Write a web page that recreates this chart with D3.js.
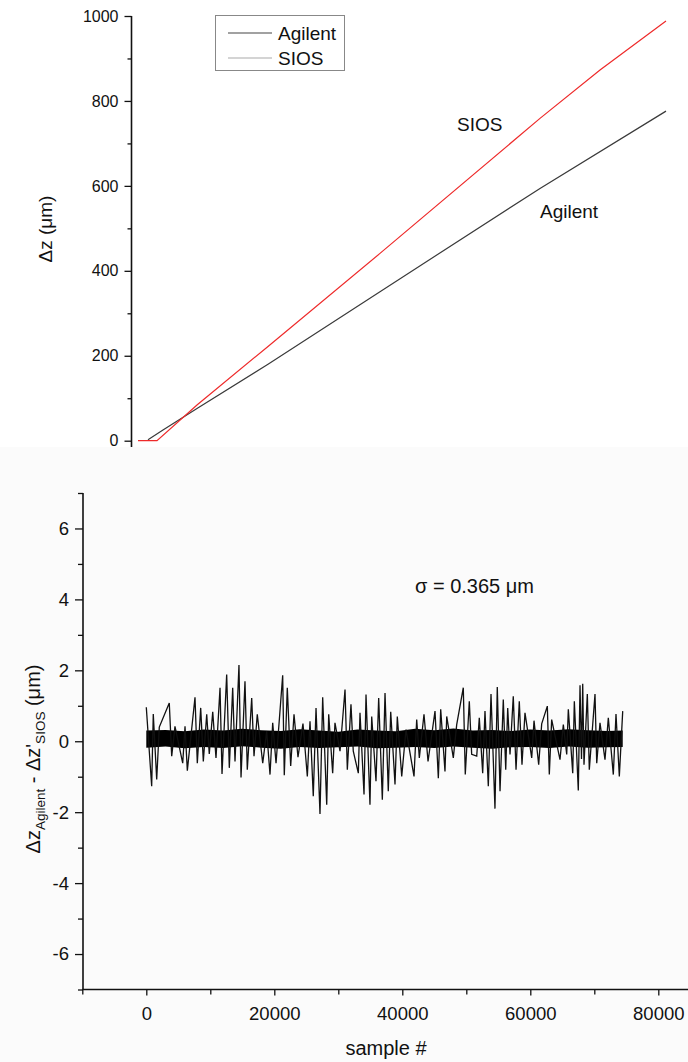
<!DOCTYPE html>
<html>
<head>
<meta charset="utf-8">
<script src="https://cdn.jsdelivr.net/npm/d3@7"></script>
<style>
  html, body { margin: 0; padding: 0; background: #ffffff; }
  svg text { font-family: Arial, "Liberation Sans", sans-serif; fill: #111; }
</style>
</head>
<body>
<script>
// ---------------- DATA ----------------
// Top panel: Δz (µm) vs sample index
const sampleSIOS   = [0, 2950, 9160, 20190, 37580, 62430, 71750, 82000];
const valueSIOS    = [0, 0, 84, 222, 441, 759, 873, 988];
const sampleAgilent = [1550, 3880, 9160, 20190, 37580, 62430, 82000];
const valueAgilent  = [2, 25, 76, 180, 351, 594, 776];
const topTicks = [0, 200, 400, 600, 800, 1000];
const topMinorTicks = [100, 300, 500, 700, 900];
const legendNames = ["Agilent", "SIOS"];

// Bottom panel: ΔzAgilent − Δz'SIOS (µm), envelope of spikes
const diffSamples = [0, 840, 1090, 1625, 2030, 3590, 3970, 4480, 5690, 6050, 6410, 7610, 7970, 8500, 8910, 9440, 9840, 10380, 10890, 11520, 11830, 12560, 12970, 13500, 13860, 14480, 14800, 15420, 15780, 16470, 16830, 17340, 18190, 18810, 19330, 19750, 20270, 21310, 21560, 22030, 22560, 23080, 23700, 24480, 25160, 25580, 26090, 26520, 27140, 27560, 28190, 28500, 29120, 29480, 30270, 31050, 31410, 31980, 32340, 33130, 33390, 34020, 34330, 34950, 35220, 35890, 36310, 36880, 37300, 37810, 38190, 38860, 39220, 39910, 40580, 41830, 42250, 42660, 43390, 44020, 45110, 45630, 46000, 46670, 46940, 47970, 48500, 49530, 49840, 50470, 50840, 51630, 52030, 52560, 52920, 53440, 53860, 54480, 54840, 55270, 55780, 56160, 56470, 56830, 57340, 57770, 58280, 58700, 59170, 60220, 60580, 61310, 61780, 62660, 62970, 63340, 64640, 65160, 65690, 65940, 66630, 66880, 67500, 67770, 68000, 68190, 68390, 68910, 69220, 70110, 70380, 70890, 71670, 72190, 72970, 73390, 73910, 74440];
const diffValues  = [0.96, -1.27, 0.77, -1.08, 0.40, 1.08, -0.42, 0.42, -0.62, 0.42, -0.83, 1.24, -0.62, 0.94, -0.57, 0.76, -0.36, 0.83, -0.47, 1.51, -0.92, 1.88, -0.75, 1.51, -0.57, 2.15, -1.02, 1.69, -0.80, 1.22, -0.42, 0.76, -0.62, 0.28, -0.94, 0.52, -0.62, 1.86, -0.96, 1.51, -0.70, 0.76, -0.45, 0.50, -0.99, 0.56, -1.55, 0.94, -2.05, 1.24, -1.79, 0.76, -0.90, 0.52, -0.28, 1.46, -0.80, 1.04, -0.28, -0.90, 0.80, -1.50, 1.32, -1.79, 0.70, -1.13, 1.22, -1.65, 1.36, -1.41, 0.83, -1.22, 0.70, -0.99, 0.33, -0.99, 0.61, -0.47, 0.76, -0.57, 0.85, -1.04, 0.90, -0.85, 0.70, -0.47, 0.47, 1.51, -0.94, 1.13, -0.37, -0.42, 0.66, -0.90, 0.85, -1.27, 1.33, -1.90, 1.53, -1.41, 1.18, -0.80, 0.94, -0.37, 1.27, -0.80, 1.13, -0.66, 0.80, -0.47, 0.58, -0.66, 0.49, 0.99, -0.94, 0.61, -0.52, 0.47, -0.37, 0.90, -0.90, 1.13, -1.39, 1.58, -0.50, 1.62, -0.66, 1.33, -0.80, 1.33, -0.62, 0.52, -0.52, 0.66, -0.94, 0.77, -0.99, 0.85];
// baseline noise band: upper and lower edges of the dense black trace
const bandSamples = [0, 3000, 6000, 9000, 12000, 15000, 18000, 21000, 24000, 27000, 30000, 33000, 36000, 39000, 42000, 45000, 48000, 51000, 54000, 57000, 60000, 63000, 66000, 69000, 72000, 74440];
const bandHigh = [0.30, 0.32, 0.28, 0.33, 0.30, 0.35, 0.31, 0.29, 0.34, 0.30, 0.27, 0.33, 0.30, 0.28, 0.35, 0.31, 0.36, 0.30, 0.32, 0.29, 0.33, 0.30, 0.34, 0.31, 0.29, 0.30];
const bandLow  = [-0.18, -0.15, -0.20, -0.16, -0.19, -0.14, -0.18, -0.21, -0.16, -0.19, -0.17, -0.15, -0.20, -0.18, -0.16, -0.19, -0.15, -0.18, -0.21, -0.17, -0.16, -0.19, -0.15, -0.18, -0.17, -0.16];
const bottomYTicks = [-6, -4, -2, 0, 2, 4, 6];
const bottomYMinor = [-7, -5, -3, -1, 1, 3, 5, 7];
const bottomXTicks = [0, 20000, 40000, 60000, 80000];
const bottomXMinor = [-10000, 10000, 30000, 50000, 70000];
const sigmaText = "σ = 0.365 μm";

// ---------------- DRAW ----------------
const W = 688, H = 1062;
const svg = d3.select("body").append("svg").attr("width", W).attr("height", H);
svg.append("rect").attr("width", W).attr("height", H).attr("fill", "#ffffff");

// ---------- TOP PANEL ----------
const topG = svg.append("g");
const xT = d3.scaleLinear().domain([0, 82000]).range([138, 666]);
const yT = d3.scaleLinear().domain([0, 1000]).range([440.7, 16]);
const topCutY = 447;

const lineT = d3.line().x(d => xT(d[0])).y(d => yT(d[1]));
const agil = sampleAgilent.map((s, i) => [s, valueAgilent[i]]);
const sios = sampleSIOS.map((s, i) => [s, valueSIOS[i]]);
topG.append("path").attr("d", lineT(agil)).attr("fill", "none")
  .attr("stroke", "#3a3a3a").attr("stroke-width", 1.2);
topG.append("path").attr("d", lineT(sios)).attr("fill", "none")
  .attr("stroke", "#ee2a2a").attr("stroke-width", 1.2);

// y axis
const axT = topG.append("g").attr("transform", "translate(131.5,0)")
  .call(d3.axisLeft(yT).tickValues(topTicks).tickSize(7).tickPadding(6)
    .tickFormat(d3.format("d")).tickSizeOuter(0));
axT.select(".domain").remove();
axT.selectAll("text").style("font-size", "16px").attr("fill", "#111");
axT.selectAll("line").attr("stroke", "#111").attr("stroke-width", 1.3);
const axTm = topG.append("g").attr("transform", "translate(131.5,0)")
  .call(d3.axisLeft(yT).tickValues(topMinorTicks).tickSize(4).tickFormat("").tickSizeOuter(0));
axTm.select(".domain").remove();
axTm.selectAll("line").attr("stroke", "#111").attr("stroke-width", 1.3);
topG.append("line").attr("x1", 131.5).attr("x2", 131.5).attr("y1", yT(1000)).attr("y2", topCutY)
  .attr("stroke", "#111").attr("stroke-width", 1.6);

topG.append("text").attr("transform", "translate(52," + 229 + ") rotate(-90)")
  .attr("text-anchor", "middle").style("font-size", "19px").text("Δz (μm)");

// legend
const lg = topG.append("g");
lg.append("rect").attr("x", 215.5).attr("y", 15.5).attr("width", 129).attr("height", 55)
  .attr("fill", "#fff").attr("stroke", "#888").attr("stroke-width", 1);
const legendColors = ["#444", "#aaa"];
legendNames.forEach((n, i) => {
  const yy = 33 + i * 25;
  lg.append("line").attr("x1", 228).attr("x2", 272).attr("y1", yy).attr("y2", yy)
    .attr("stroke", legendColors[i]).attr("stroke-width", 1.2);
  lg.append("text").attr("x", 278).attr("y", yy + 6.5).style("font-size", "19px").text(n);
});

// in-plot labels
topG.append("text").attr("x", 457).attr("y", 131).style("font-size", "19px").text("SIOS");
topG.append("text").attr("x", 540).attr("y", 218).style("font-size", "19px").text("Agilent");

// ---------- BOTTOM PANEL ----------
const bot = svg.append("g");
bot.append("rect").attr("x", 0).attr("y", topCutY).attr("width", W).attr("height", H - topCutY)
  .attr("fill", "#fbfbfb");

const xB = d3.scaleLinear().domain([-10000, 85000]).range([82.3, 690.3]);
const yB = d3.scaleLinear().domain([-7, 7]).range([989.5, 493]);

// noise band
const band = bandSamples.map((s, i) => [s, bandLow[i], bandHigh[i]]);
bot.append("path").attr("d", d3.area().x(d => xB(d[0])).y0(d => yB(d[1])).y1(d => yB(d[2]))(band))
  .attr("fill", "#000");
// spikes
const diff = diffSamples.map((s, i) => [s, diffValues[i]]);
bot.append("path").attr("d", d3.line().x(d => xB(d[0])).y(d => yB(d[1]))(diff))
  .attr("fill", "none").attr("stroke", "#111").attr("stroke-width", 1.3)
  .attr("stroke-linejoin", "miter").attr("stroke-miterlimit", 2);

// y axis
const axBy = bot.append("g").attr("transform", "translate(83,0)")
  .call(d3.axisLeft(yB).tickValues(bottomYTicks).tickSize(8).tickPadding(6)
    .tickFormat(d => d < 0 ? "-" + Math.abs(d) : d).tickSizeOuter(0));
axBy.select(".domain").remove();
axBy.selectAll("text").style("font-size", "18.5px").attr("fill", "#111");
axBy.selectAll("line").attr("stroke", "#111").attr("stroke-width", 1.3);
const axBym = bot.append("g").attr("transform", "translate(83,0)")
  .call(d3.axisLeft(yB).tickValues(bottomYMinor).tickSize(5).tickFormat("").tickSizeOuter(0));
axBym.select(".domain").remove();
axBym.selectAll("line").attr("stroke", "#111").attr("stroke-width", 1.3);
bot.append("line").attr("x1", 83).attr("x2", 83).attr("y1", yB(7)).attr("y2", yB(-7))
  .attr("stroke", "#111").attr("stroke-width", 1.6);

// x axis
const axBx = bot.append("g").attr("transform", "translate(0," + yB(-7) + ")")
  .call(d3.axisBottom(xB).tickValues(bottomXTicks).tickSize(6).tickPadding(11).tickFormat(d3.format("d")).tickSizeOuter(0));
axBx.select(".domain").remove();
axBx.selectAll("text").style("font-size", "18.5px").attr("fill", "#111");
axBx.selectAll("line").attr("stroke", "#111").attr("stroke-width", 1.3);
const axBxm = bot.append("g").attr("transform", "translate(0," + yB(-7) + ")")
  .call(d3.axisBottom(xB).tickValues(bottomXMinor).tickSize(5).tickFormat("").tickSizeOuter(0));
axBxm.select(".domain").remove();
axBxm.selectAll("line").attr("stroke", "#111").attr("stroke-width", 1.3);
bot.append("line").attr("x1", 82.3).attr("x2", W).attr("y1", yB(-7)).attr("y2", yB(-7))
  .attr("stroke", "#111").attr("stroke-width", 1.6);

bot.append("text").attr("x", 386).attr("y", 1055).attr("text-anchor", "middle")
  .style("font-size", "20px").text("sample #");

// y label with subscripts
const yl = bot.append("text").attr("transform", "translate(40,759) rotate(-90)")
  .attr("text-anchor", "middle").style("font-size", "20px");
yl.append("tspan").text("Δz");
yl.append("tspan").attr("dy", 5).style("font-size", "13.5px").text("Agilent");
yl.append("tspan").attr("dy", -5).text(" - Δz'");
yl.append("tspan").attr("dy", 5).style("font-size", "13.5px").text("SIOS");
yl.append("tspan").attr("dy", -5).text(" (μm)");

bot.append("text").attr("x", 415).attr("y", 593).style("font-size", "20px").text(sigmaText);
</script>
</body>
</html>
